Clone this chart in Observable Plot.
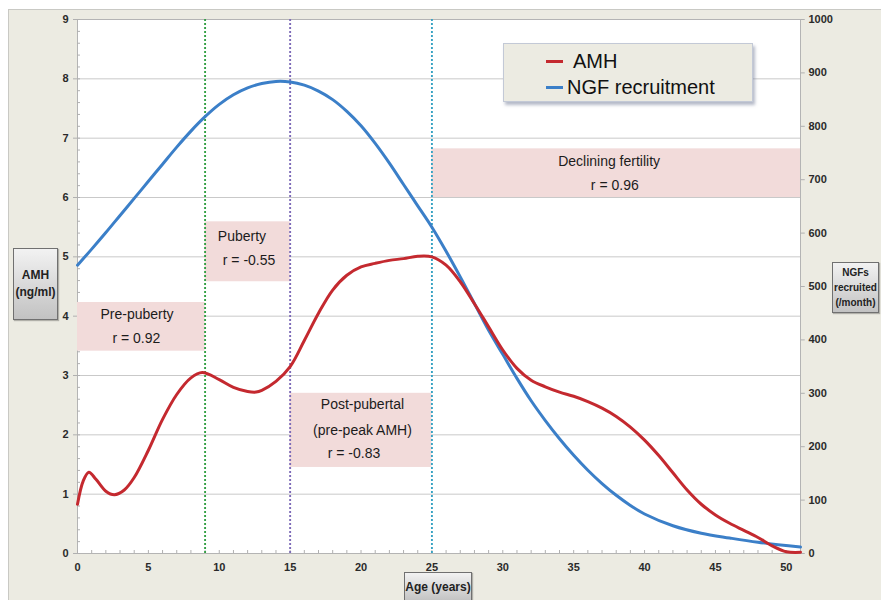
<!DOCTYPE html>
<html>
<head>
<meta charset="utf-8">
<script src="https://cdn.jsdelivr.net/npm/d3@7"></script>
<script src="https://cdn.jsdelivr.net/npm/@observablehq/plot@0.6"></script>
<style>
  html, body { margin: 0; padding: 0; background: #fff; }
  #wrap { position: relative; width: 881px; height: 600px; overflow: hidden;
          font-family: "Liberation Sans", Arial, Helvetica, sans-serif; }
  #panel { position: absolute; left: 8px; top: 9px; right: 0; bottom: 0;
           background: #ecebe2; border-left: 1px solid #c9c9c4; border-top: 1px solid #c9c9c4; }
  #chart { position: absolute; left: 0; top: 0; }
  .axbox { position: absolute; box-sizing: border-box; border: 1px solid #707070;
           background: linear-gradient(#f2f2f2, #c2c2c2); font-weight: bold; color: #222;
           text-align: center; display: flex; flex-direction: column; justify-content: center;
           box-shadow: 1px 1px 1px rgba(0,0,0,0.25); }
  #legend { position: absolute; left: 503px; top: 43px; width: 250px; height: 59px;
            box-sizing: border-box; background: #ecebe2; border: 1px solid #c3c9d6;
            box-shadow: 2px 3px 3px rgba(120,130,155,0.55); }
  .item { position: absolute; left: 42px; display: flex; align-items: center;
          font-size: 20px; color: #111; height: 24px; }
  .sw { width: 17px; height: 3px; margin-right: 8px; }
</style>
</head>
<body>
<div id="wrap">
  <div id="panel"></div>
  <div id="chart"></div>
  <div class="axbox" style="left:13px;top:248px;width:45px;height:72px;font-size:12px;line-height:17px;">
    <div>AMH</div><div>(ng/ml)</div>
  </div>
  <div class="axbox" style="left:832px;top:262px;width:47px;height:51px;font-size:10px;line-height:15px;">
    <div>NGFs</div><div>recruited</div><div>(/month)</div>
  </div>
  <div class="axbox" style="left:404px;top:572px;width:68px;height:30px;font-size:12px;justify-content:flex-start;padding-top:7px;">
    <div>Age (years)</div>
  </div>
  <div id="legend">
    <div class="item" style="top:5px;"><span class="sw" style="background:#c4292f"></span><span style="margin-left:2px">AMH</span></div>
    <div class="item" style="top:31px;"><span class="sw" style="background:#3b7fc8;margin-right:4px"></span><span>NGF recruitment</span></div>
  </div>
</div>
<script>
// Serum AMH (ng/ml) by age
const amhAges = [0,0.4,0.8,1.3,2,2.6,3.3,4,5,6,7,8,8.8,10,11,12,12.6,
  13,14,15,16,17,18,19,20,21,22,23,24,25,26,27,28,29,30,31,32,33,34,35,
  36,37,38,39,40,41,42,43,44,45,46,47,48,49,50,51];
const amhValues = [0.83,1.22,1.37,1.25,1.05,0.99,1.07,1.28,1.74,2.26,2.68,2.96,3.05,2.93,2.80,2.73,2.72,
  2.75,2.90,3.15,3.59,4.05,4.44,4.69,4.83,4.89,4.94,4.97,5.01,5.00,4.86,4.58,4.21,3.82,3.43,3.12,2.92,2.81,2.72,2.65,
  2.56,2.45,2.31,2.13,1.91,1.65,1.36,1.07,0.83,0.65,0.51,0.39,0.27,0.13,0.03,0.02];

// Non-growing follicles recruited per month by age
const ngfAges = [0,1,2,3,4,5,6,7,8,9,10,11,12,13,14,15,16,17,18,19,
  20,21,22,23,24,25,26,27,28,29,30,31,32,33,34,35,36,37,38,39,40,42,44,46,48,51];
const ngfValues = [540,570,601,633,665,697,729,761,791,818,841,859,872,880,884,883,877,866,850,828,
  801,768,731,691,651,611,566,518,468,418,373,328,286,249,215,184,156,131,109,90,74,52,38,29,21,12];

// Reproductive phases
const phaseNames = ["Pre-puberty","Puberty","Post-pubertal","Declining fertility"];
const phaseStart = [0, 9, 15, 25];
const phaseEnd = [9, 15, 25, 51];
const phaseBoxLow = [3.41, 4.58, 1.45, 6.0];
const phaseBoxHigh = [4.23, 5.59, 2.70, 6.82];
const boundaryAges = [9, 15, 25];
const boundaryColors = ["#34a045", "#7d6bb8", "#36a2c2"];

// Annotation text lines (age, AMH level)
const noteText = ["Pre-puberty","r = 0.92","Puberty","r = -0.55","Post-pubertal","(pre-peak AMH)","r = -0.83","Declining fertility","r = 0.96"];
const noteAge  = [4.2, 4.15, 11.6, 12.1, 20.1, 20.1, 19.5, 37.5, 37.9];
const noteLevel = [4.02, 3.62, 5.34, 4.93, 2.51, 2.08, 1.68, 6.61, 6.20];

// Axis ticks
const amhTicks = d3.range(0, 10, 1);
const amhMinorTicks = d3.range(0, 46).map(i => i / 5);
const ageTicks = d3.range(0, 51, 5);
const ageMinorTicks = d3.range(0, 52, 1);
const ngfTicks = d3.range(0, 1001, 100);

const AMH_MAX = 9, NGF_MAX = 1000;
const toLeft = v => v * AMH_MAX / NGF_MAX;

const amhRows = amhAges.map((a, i) => ({age: a, v: amhValues[i]}));
const ngfRows = ngfAges.map((a, i) => ({age: a, v: ngfValues[i]}));
const phases = phaseNames.map((n, i) => ({name: n, x1: phaseStart[i], x2: phaseEnd[i], y1: phaseBoxLow[i], y2: phaseBoxHigh[i]}));
const boundaries = boundaryAges.map((a, i) => ({age: a, color: boundaryColors[i]}));
const notes = noteText.map((t, i) => ({t, age: noteAge[i], lvl: noteLevel[i]}));

const chart = Plot.plot({
  width: 881,
  height: 600,
  marginLeft: 77,
  marginRight: 81,
  marginTop: 19,
  marginBottom: 47,
  style: {background: "transparent", fontFamily: "'Liberation Sans', Arial, sans-serif", overflow: "visible"},
  x: {domain: [0, 51]},
  y: {domain: [0, AMH_MAX]},
  marks: [
    Plot.frame({fill: "white", stroke: "none"}),
    Plot.gridY(amhTicks, {stroke: "#c9c9c9", strokeOpacity: 1, strokeWidth: 1}),
    Plot.frame({stroke: "#b4b4b4"}),
    // minor ticks inside the plot
    Plot.axisY(amhMinorTicks, {anchor: "left", tickSize: -3, tickFormat: () => "", stroke: "#b0b0b0", label: null}),
    Plot.axisX(ageMinorTicks, {anchor: "bottom", tickSize: -3, tickFormat: () => "", stroke: "#b0b0b0", label: null}),
    // left axis (AMH)
    Plot.axisY(amhTicks, {anchor: "left", tickSize: 4, tickPadding: 5, stroke: "#b0b0b0", tickFormat: d => String(d),
      fontSize: 11, fontWeight: "bold", fill: "#2a2a2a", label: null}),
    // bottom axis (age)
    Plot.axisX(ageTicks, {anchor: "bottom", tickSize: 0, tickPadding: 10, tickFormat: d => String(d),
      fontSize: 11, fontWeight: "bold", fill: "#2a2a2a", label: null}),
    // right axis (NGF per month)
    Plot.link(ngfTicks, {x1: 51, x2: 51.3, y1: d => toLeft(d), y2: d => toLeft(d), stroke: "#b0b0b0", clip: false}),
    Plot.text(ngfTicks, {x: 51, y: d => toLeft(d), text: d => String(d), dx: 8, textAnchor: "start",
      fontSize: 11, fontWeight: "bold", fill: "#2a2a2a"}),
    // phase annotation boxes
    Plot.rect(phases, {x1: "x1", x2: "x2", y1: "y1", y2: "y2", fill: "#f2dbda"}),
    // phase boundaries
    Plot.ruleX(boundaries, {x: "age", stroke: "color", strokeDasharray: "2,2", strokeWidth: 1.9}),
    Plot.text(notes, {x: "age", y: "lvl", text: "t", fontSize: 14, fill: "#1c1c1c"}),
    // curves
    Plot.line(ngfRows, {x: "age", y: d => toLeft(d.v), stroke: "#3b7fc8", strokeWidth: 3, curve: "catmull-rom"}),
    Plot.line(amhRows, {x: "age", y: "v", stroke: "#c4292f", strokeWidth: 3, curve: "catmull-rom"})
  ]
});
document.getElementById("chart").appendChild(chart);
</script>
</body>
</html>
